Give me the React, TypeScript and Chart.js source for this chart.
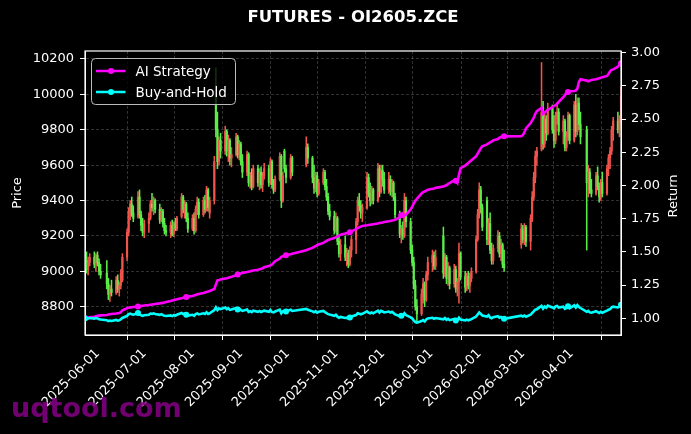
import React, { useEffect, useRef } from 'react';
import { Chart, registerables } from 'chart.js';

Chart.register(...registerables);

const TITLE = 'FUTURES - OI2605.ZCE';
const AI_LABEL = 'AI Strategy';
const BH_LABEL = 'Buy-and-Hold';
const PRICE_LABEL = 'Price';
const RETURN_LABEL = 'Return';
const WATERMARK = 'uqtool.com';

const X_START = '2025-05-20';
const X_END = '2026-04-29';
const MONTH_TICKS = [
  '2025-06-01', '2025-07-01', '2025-08-01', '2025-09-01', '2025-10-01', '2025-11-01',
  '2025-12-01', '2026-01-01', '2026-02-01', '2026-03-01', '2026-04-01',
];
const PRICE_TICKS = [8800, 9000, 9200, 9400, 9600, 9800, 10000, 10200];
const RETURN_TICKS = [1.0, 1.25, 1.5, 1.75, 2.0, 2.25, 2.5, 2.75, 3.0];
const PRICE_MIN = 8640;
const PRICE_MAX = 10245;
const RET_MIN = 0.874;
const RET_MAX = 3.013;

// rows: [day, open, high, low, close, AI strategy return]
const may2025 = [
  [20, 9080, 9120, 9020, 9060, 1.000],
  [21, 9060, 9110, 8990, 9010, 1.003],
  [22, 9010, 9080, 8980, 9050, 1.006],
  [23, 9050, 9100, 9030, 9080, 1.008],
  [26, 9080, 9110, 9020, 9040, 1.012],
  [27, 9040, 9100, 9000, 9090, 1.015],
  [28, 9090, 9110, 9030, 9050, 1.018],
  [29, 9050, 9070, 8980, 9000, 1.020],
  [30, 9000, 9040, 8960, 8980, 1.022],
];
const jun2025 = [
  [3, 8990, 9060, 8900, 8930, 1.025],
  [4, 8930, 8960, 8840, 8870, 1.028],
  [5, 8870, 8920, 8830, 8900, 1.030],
  [6, 8900, 8950, 8860, 8880, 1.032],
  [9, 8880, 8970, 8870, 8950, 1.036],
  [10, 8950, 8980, 8880, 8900, 1.038],
  [11, 8900, 8940, 8860, 8920, 1.040],
  [12, 8920, 9010, 8900, 8990, 1.045],
  [13, 8950, 9100, 8940, 9080, 1.060],
  [16, 9080, 9240, 9060, 9220, 1.075],
  [17, 9220, 9360, 9200, 9340, 1.080],
  [18, 9340, 9400, 9290, 9380, 1.082],
  [19, 9380, 9420, 9310, 9330, 1.083],
  [20, 9330, 9370, 9280, 9300, 1.085],
  [23, 9310, 9450, 9300, 9420, 1.088],
  [24, 9420, 9460, 9300, 9320, 1.090],
  [25, 9320, 9340, 9230, 9260, 1.092],
  [26, 9260, 9300, 9200, 9220, 1.094],
  [27, 9220, 9290, 9190, 9270, 1.096],
  [30, 9270, 9330, 9220, 9300, 1.100],
];
const jul2025 = [
  [1, 9300, 9400, 9290, 9380, 1.102],
  [2, 9380, 9440, 9340, 9360, 1.104],
  [3, 9360, 9420, 9320, 9400, 1.106],
  [4, 9400, 9410, 9330, 9350, 1.108],
  [7, 9350, 9380, 9270, 9290, 1.112],
  [8, 9290, 9360, 9280, 9340, 1.114],
  [9, 9340, 9350, 9250, 9270, 1.116],
  [10, 9270, 9300, 9210, 9230, 1.118],
  [11, 9230, 9260, 9200, 9220, 1.122],
  [14, 9220, 9280, 9190, 9260, 1.130],
  [15, 9260, 9290, 9200, 9210, 1.134],
  [16, 9210, 9280, 9195, 9270, 1.137],
  [17, 9270, 9300, 9230, 9240, 1.140],
  [18, 9240, 9310, 9230, 9300, 1.143],
  [21, 9310, 9440, 9300, 9420, 1.150],
  [22, 9420, 9430, 9330, 9350, 1.155],
  [23, 9350, 9400, 9300, 9380, 1.158],
  [24, 9380, 9390, 9280, 9300, 1.160],
  [25, 9300, 9330, 9220, 9240, 1.163],
  [28, 9240, 9320, 9230, 9300, 1.168],
  [29, 9300, 9330, 9210, 9230, 1.172],
  [30, 9230, 9370, 9220, 9350, 1.176],
  [31, 9350, 9420, 9320, 9390, 1.180],
];
const aug2025 = [
  [1, 9390, 9410, 9300, 9320, 1.183],
  [4, 9320, 9420, 9310, 9400, 1.190],
  [5, 9400, 9430, 9330, 9350, 1.194],
  [6, 9350, 9480, 9340, 9460, 1.198],
  [7, 9460, 9470, 9340, 9360, 1.202],
  [8, 9330, 9420, 9300, 9400, 1.206],
  [11, 9400, 9650, 9380, 9620, 1.220],
  [12, 10050, 10150, 9760, 9800, 1.255],
  [13, 9800, 9900, 9580, 9620, 1.285],
  [14, 9620, 9760, 9600, 9740, 1.288],
  [15, 9740, 9780, 9640, 9680, 1.292],
  [18, 9680, 9820, 9660, 9790, 1.300],
  [19, 9790, 9800, 9650, 9680, 1.302],
  [20, 9680, 9770, 9620, 9740, 1.305],
  [21, 9740, 9750, 9600, 9640, 1.308],
  [22, 9640, 9700, 9590, 9660, 1.312],
  [25, 9660, 9780, 9650, 9760, 1.325],
  [26, 9760, 9770, 9640, 9660, 1.330],
  [27, 9660, 9740, 9630, 9720, 1.334],
  [28, 9720, 9730, 9600, 9620, 1.338],
  [29, 9620, 9660, 9530, 9560, 1.342],
];
const sep2025 = [
  [1, 9560, 9680, 9540, 9660, 1.348],
  [2, 9660, 9670, 9480, 9500, 1.351],
  [3, 9500, 9560, 9470, 9540, 1.354],
  [4, 9540, 9580, 9460, 9480, 1.357],
  [5, 9480, 9600, 9470, 9580, 1.360],
  [8, 9580, 9600, 9480, 9500, 1.366],
  [9, 9500, 9580, 9460, 9560, 1.369],
  [10, 9560, 9590, 9470, 9490, 1.372],
  [11, 9490, 9560, 9450, 9540, 1.376],
  [12, 9540, 9610, 9520, 9580, 1.385],
  [15, 9580, 9600, 9480, 9500, 1.393],
  [16, 9500, 9640, 9490, 9620, 1.398],
  [17, 9620, 9630, 9470, 9490, 1.405],
  [18, 9490, 9520, 9440, 9460, 1.418],
  [19, 9460, 9540, 9450, 9520, 1.430],
  [22, 9520, 9670, 9510, 9650, 1.450],
  [23, 9650, 9660, 9360, 9400, 1.462],
  [24, 9400, 9560, 9390, 9540, 1.468],
  [25, 9680, 9690, 9560, 9580, 1.470],
  [26, 9580, 9600, 9500, 9530, 1.474],
  [29, 9530, 9660, 9520, 9640, 1.482],
  [30, 9640, 9650, 9540, 9560, 1.486],
];
const oct2025 = [
  [9, 9600, 9760, 9590, 9700, 1.512],
  [10, 9700, 9720, 9610, 9640, 1.518],
  [13, 9640, 9650, 9500, 9530, 1.530],
  [14, 9530, 9600, 9440, 9470, 1.538],
  [15, 9470, 9560, 9450, 9540, 1.544],
  [16, 9540, 9560, 9420, 9440, 1.550],
  [17, 9440, 9520, 9430, 9500, 1.556],
  [20, 9500, 9580, 9490, 9560, 1.568],
  [21, 9560, 9570, 9460, 9480, 1.575],
  [22, 9480, 9520, 9400, 9420, 1.582],
  [23, 9420, 9440, 9320, 9340, 1.588],
  [24, 9340, 9380, 9290, 9310, 1.594],
  [27, 9310, 9340, 9210, 9230, 1.604],
  [28, 9230, 9330, 9220, 9300, 1.610],
  [29, 9300, 9310, 9150, 9170, 1.616],
  [30, 9170, 9200, 9080, 9100, 1.622],
  [31, 9100, 9180, 9060, 9150, 1.630],
];
const nov2025 = [
  [3, 9150, 9200, 9060, 9080, 1.638],
  [4, 9080, 9130, 9030, 9100, 1.642],
  [5, 9100, 9120, 9020, 9040, 1.640],
  [6, 9040, 9140, 9030, 9120, 1.648],
  [7, 9120, 9200, 9080, 9180, 1.655],
  [10, 9180, 9300, 9100, 9280, 1.672],
  [11, 9280, 9420, 9260, 9400, 1.680],
  [12, 9400, 9440, 9340, 9370, 1.686],
  [13, 9370, 9400, 9300, 9330, 1.690],
  [14, 9330, 9380, 9280, 9360, 1.695],
  [17, 9360, 9560, 9350, 9530, 1.700],
  [18, 9530, 9550, 9420, 9440, 1.702],
  [19, 9440, 9500, 9370, 9400, 1.704],
  [20, 9400, 9480, 9380, 9460, 1.706],
  [21, 9460, 9470, 9380, 9400, 1.708],
  [24, 9400, 9610, 9390, 9580, 1.714],
  [25, 9580, 9600, 9420, 9450, 1.717],
  [26, 9450, 9600, 9440, 9570, 1.720],
  [27, 9570, 9600, 9480, 9520, 1.722],
  [28, 9520, 9560, 9440, 9460, 1.725],
];
const dec2025 = [
  [1, 9460, 9560, 9440, 9520, 1.730],
  [2, 9520, 9540, 9430, 9450, 1.733],
  [3, 9450, 9520, 9420, 9500, 1.736],
  [4, 9500, 9510, 9400, 9420, 1.738],
  [5, 9420, 9440, 9300, 9320, 1.742],
  [8, 9320, 9340, 9190, 9210, 1.760],
  [9, 9210, 9260, 9160, 9240, 1.775],
  [10, 9240, 9280, 9180, 9200, 1.790],
  [11, 9200, 9440, 9190, 9400, 1.772],
  [12, 9400, 9420, 9250, 9280, 1.780],
  [15, 9280, 9300, 9100, 9120, 1.820],
  [16, 9120, 9150, 9030, 9050, 1.840],
  [17, 9050, 9080, 8900, 8920, 1.865],
  [18, 8920, 8950, 8780, 8800, 1.885],
  [19, 8800, 8840, 8710, 8760, 1.900],
  [22, 8760, 8900, 8750, 8870, 1.940],
  [23, 8870, 8960, 8820, 8930, 1.950],
  [24, 8930, 8940, 8800, 8840, 1.955],
  [25, 8840, 9000, 8830, 8980, 1.962],
  [26, 8980, 9080, 8950, 9050, 1.968],
  [29, 9050, 9120, 9000, 9090, 1.975],
  [30, 9090, 9110, 9010, 9030, 1.978],
  [31, 9030, 9120, 9010, 9080, 1.982],
];
const jan2026 = [
  [5, 9200, 9250, 8960, 8990, 1.992],
  [6, 8990, 9100, 8970, 9080, 1.998],
  [7, 9080, 9090, 8930, 8960, 2.002],
  [8, 8960, 9050, 8920, 9020, 2.012],
  [9, 9020, 9030, 8900, 8930, 2.018],
  [12, 8930, 9040, 8910, 9010, 2.040],
  [13, 9010, 9030, 8880, 8900, 2.035],
  [14, 8900, 8960, 8860, 8940, 2.020],
  [15, 8940, 9160, 8820, 9100, 2.080],
  [16, 9100, 9110, 8950, 8970, 2.130],
  [19, 8970, 9000, 8880, 8910, 2.150],
  [20, 8910, 8990, 8890, 8970, 2.160],
  [21, 8970, 9000, 8900, 8920, 2.170],
  [22, 8920, 8990, 8880, 8960, 2.180],
  [23, 8960, 9020, 8940, 9000, 2.190],
  [26, 9000, 9200, 8990, 9180, 2.220],
  [27, 9180, 9350, 9170, 9320, 2.240],
  [28, 9320, 9500, 9300, 9460, 2.260],
  [29, 9460, 9480, 9330, 9360, 2.280],
  [30, 9360, 9380, 9230, 9250, 2.295],
];
const feb2026 = [
  [2, 9400, 9420, 9150, 9180, 2.310],
  [3, 9180, 9300, 9150, 9270, 2.318],
  [4, 9270, 9330, 9100, 9120, 2.325],
  [5, 9120, 9160, 9040, 9060, 2.330],
  [6, 9060, 9150, 9040, 9130, 2.340],
  [9, 9130, 9230, 9110, 9200, 2.350],
  [10, 9200, 9220, 9080, 9100, 2.360],
  [11, 9100, 9180, 9060, 9150, 2.365],
  [12, 9150, 9160, 9020, 9040, 2.368],
  [13, 9040, 9120, 9000, 9020, 2.370],
  [24, 9150, 9270, 9130, 9240, 2.372],
  [25, 9240, 9260, 9160, 9180, 2.380],
  [26, 9180, 9270, 9150, 9250, 2.400],
  [27, 9250, 9260, 9140, 9170, 2.430],
];
const mar2026 = [
  [2, 9170, 9320, 9120, 9300, 2.470],
  [3, 9300, 9450, 9280, 9420, 2.490],
  [4, 9420, 9560, 9400, 9530, 2.510],
  [5, 9530, 9680, 9500, 9650, 2.540],
  [6, 9650, 9700, 9600, 9680, 2.560],
  [9, 9690, 10180, 9680, 9900, 2.585],
  [10, 9900, 9960, 9690, 9720, 2.540],
  [11, 9720, 9900, 9700, 9860, 2.550],
  [12, 9860, 9880, 9740, 9780, 2.560],
  [13, 9780, 9950, 9770, 9920, 2.570],
  [16, 9920, 9940, 9780, 9800, 2.590],
  [17, 9800, 9880, 9700, 9740, 2.600],
  [18, 9740, 9900, 9720, 9870, 2.605],
  [19, 9870, 9950, 9830, 9900, 2.615],
  [20, 9900, 9920, 9770, 9790, 2.630],
  [23, 9790, 9880, 9720, 9850, 2.665],
  [24, 9850, 9860, 9680, 9700, 2.680],
  [25, 9700, 9790, 9680, 9760, 2.700],
  [26, 9760, 9900, 9740, 9880, 2.705],
  [27, 9880, 9890, 9720, 9740, 2.710],
  [30, 9740, 9960, 9730, 9940, 2.712],
  [31, 9940, 10000, 9760, 9790, 2.715],
];
const apr2026 = [
  [1, 9790, 9980, 9770, 9950, 2.730],
  [2, 9950, 9980, 9800, 9830, 2.780],
  [3, 9830, 9900, 9720, 9760, 2.800],
  [7, 9800, 9820, 9120, 9500, 2.790],
  [8, 9500, 9600, 9420, 9560, 2.785],
  [9, 9560, 9580, 9440, 9460, 2.790],
  [10, 9460, 9520, 9420, 9440, 2.795],
  [13, 9440, 9560, 9430, 9540, 2.800],
  [14, 9540, 9590, 9460, 9480, 2.805],
  [15, 9480, 9500, 9390, 9420, 2.808],
  [16, 9420, 9520, 9400, 9500, 2.812],
  [17, 9500, 9560, 9420, 9440, 2.815],
  [20, 9440, 9600, 9430, 9580, 2.825],
  [21, 9580, 9660, 9540, 9640, 2.840],
  [22, 9640, 9700, 9580, 9680, 2.860],
  [23, 9680, 9820, 9660, 9800, 2.870],
  [24, 9800, 9870, 9740, 9850, 2.875],
  [27, 9850, 9900, 9780, 9800, 2.895],
  [28, 9800, 9880, 9760, 9860, 2.910],
  [29, 9860, 10040, 9840, 9990, 2.920],
];

const MONTH_TABLES: [string, number[][]][] = [
  ['2025-05', may2025], ['2025-06', jun2025], ['2025-07', jul2025], ['2025-08', aug2025],
  ['2025-09', sep2025], ['2025-10', oct2025], ['2025-11', nov2025], ['2025-12', dec2025],
  ['2026-01', jan2026], ['2026-02', feb2026], ['2026-03', mar2026], ['2026-04', apr2026],
];

const FONT = "'DejaVu Sans', sans-serif";
const UP = '#f0544c';
const DOWN = '#5bee4a';
const AI_COLOR = '#ff00ff';
const BH_COLOR = '#00ffff';
const GRID = 'rgba(200,200,200,0.35)';
const MARK_EVERY = 23;

const dayNum = (iso: string) => Date.parse(iso + 'T00:00:00Z') / 86400000;
const isoOf = (d: number) => new Date(Math.round(d) * 86400000).toISOString().slice(0, 10);

const rows = MONTH_TABLES.flatMap(([ym, tbl]) =>
  tbl.map((r) => ({
    x: dayNum(`${ym}-${String(r[0]).padStart(2, '0')}`),
    o: r[1], h: r[2], l: r[3], c: r[4], ai: r[5],
  }))
);
const firstClose = rows[0].c;

const decor = {
  id: 'decor',
  beforeDraw(chart: any) {
    const { ctx, width, height } = chart;
    ctx.save();
    ctx.fillStyle = '#000';
    ctx.fillRect(0, 0, width, height);
    ctx.restore();
  },
  afterDatasetsDraw(chart: any) {
    const { ctx, chartArea: a } = chart;
    ctx.save();
    ctx.strokeStyle = '#fff';
    ctx.lineWidth = 1.2;
    ctx.strokeRect(a.left, a.top, a.right - a.left, a.bottom - a.top);
    ctx.restore();
  },
  afterDraw(chart: any) {
    const { ctx, chartArea: a, width } = chart;
    ctx.save();
    // title
    ctx.fillStyle = '#fff';
    ctx.font = `bold 16.5px ${FONT}`;
    ctx.textAlign = 'center';
    ctx.textBaseline = 'middle';
    ctx.fillText(TITLE, (a.left + a.right) / 2, 18);
    // right axis title
    ctx.save();
    ctx.translate(width - 17.5, (a.top + a.bottom) / 2 + 3);
    ctx.rotate(-Math.PI / 2);
    ctx.font = `13px ${FONT}`;
    ctx.fillText(RETURN_LABEL, 0, 0);
    ctx.restore();
    // legend
    const lx = a.left + 6.5, ly = a.top + 7.5, lw = 144, lh = 46;
    ctx.beginPath();
    ctx.roundRect(lx, ly, lw, lh, 4);
    ctx.fillStyle = 'rgba(0,0,0,0.8)';
    ctx.fill();
    ctx.strokeStyle = '#bbbbbb';
    ctx.lineWidth = 1;
    ctx.stroke();
    const items = [
      { label: AI_LABEL, color: AI_COLOR },
      { label: BH_LABEL, color: BH_COLOR },
    ];
    items.forEach((it, i) => {
      const y = ly + 12.5 + i * 21;
      ctx.strokeStyle = it.color;
      ctx.lineWidth = 2.5;
      ctx.beginPath();
      ctx.moveTo(lx + 4.5, y);
      ctx.lineTo(lx + 34, y);
      ctx.stroke();
      ctx.fillStyle = it.color;
      ctx.beginPath();
      ctx.arc(lx + 19.5, y, 3, 0, Math.PI * 2);
      ctx.fill();
      ctx.fillStyle = '#fff';
      ctx.font = `13.5px ${FONT}`;
      ctx.textAlign = 'left';
      ctx.textBaseline = 'middle';
      ctx.fillText(it.label, lx + 44, y + 1);
    });
    // watermark
    ctx.fillStyle = 'rgba(128,0,128,0.9)';
    ctx.font = `bold 27px ${FONT}`;
    ctx.textAlign = 'left';
    ctx.textBaseline = 'alphabetic';
    ctx.fillText(WATERMARK, 11, 417);
    ctx.restore();
  },
};

export default function App() {
  const ref = useRef<HTMLCanvasElement>(null);
  useEffect(() => {
    document.body.style.margin = '0';
    document.body.style.background = '#000';
    Chart.defaults.font.family = FONT;
    const markR = (ctx: any) => (ctx.dataIndex % MARK_EVERY === 0 ? 3 : 0);
    const tickGrid = { tickColor: '#fff', tickLength: 5, tickWidth: 1, tickBorderDash: [] };
    const chart = new Chart(ref.current as HTMLCanvasElement, {
      type: 'bar',
      data: {
        datasets: [
          {
            type: 'line', label: BH_LABEL, yAxisID: 'y2', order: 0,
            data: rows.map((r) => ({ x: r.x, y: r.c / firstClose })),
            borderColor: BH_COLOR, backgroundColor: BH_COLOR, borderWidth: 2.6,
            pointRadius: markR, pointBorderWidth: 0, tension: 0,
          } as any,
          {
            type: 'line', label: AI_LABEL, yAxisID: 'y2', order: 1,
            data: rows.map((r) => ({ x: r.x, y: r.ai })),
            borderColor: AI_COLOR, backgroundColor: AI_COLOR, borderWidth: 2.6,
            pointRadius: markR, pointBorderWidth: 0, tension: 0,
          } as any,
          {
            type: 'bar', label: 'body', yAxisID: 'y', order: 2, grouped: false,
            data: rows.map((r) => ({ x: r.x, y: [r.o, r.c] })),
            backgroundColor: rows.map((r) => (r.c >= r.o ? UP : DOWN)),
            barThickness: 1.5, minBarLength: 1, borderWidth: 0,
          } as any,
          {
            type: 'bar', label: 'wick', yAxisID: 'y', order: 3, grouped: false,
            data: rows.map((r) => ({ x: r.x, y: [r.l, r.h] })),
            backgroundColor: rows.map((r) => (r.c >= r.o ? UP : DOWN)),
            barThickness: 0.9, borderWidth: 0,
          } as any,
        ],
      },
      options: {
        responsive: false,
        animation: false,
        devicePixelRatio: 1,
        layout: { padding: { top: 51, left: 0, right: 0, bottom: 0 } },
        plugins: { legend: { display: false }, title: { display: false }, tooltip: { enabled: false } },
        scales: {
          x: {
            type: 'linear', offset: false, min: dayNum(X_START), max: dayNum(X_END),
            afterBuildTicks: (s: any) => { s.ticks = MONTH_TICKS.map((d) => ({ value: dayNum(d) })); },
            afterFit: (s: any) => { s.height = 99; },
            ticks: {
              autoSkip: false, maxRotation: 45, minRotation: 45, color: '#fff', padding: 6, labelOffset: -6,
              font: { size: 13, family: FONT },
              callback: (v: any) => isoOf(Number(v)),
            },
            grid: { color: GRID, lineWidth: 0.7, ...tickGrid },
            border: { color: '#fff', width: 1, dash: [3, 2] },
          },
          y: {
            position: 'left', min: PRICE_MIN, max: PRICE_MAX,
            afterBuildTicks: (s: any) => { s.ticks = PRICE_TICKS.map((v) => ({ value: v })); },
            afterFit: (s: any) => { s.width = 85; },
            ticks: {
              color: '#fff', padding: 6,
              font: { size: 13, family: FONT }, callback: (v: any) => String(v),
            },
            grid: { color: GRID, lineWidth: 0.7, ...tickGrid },
            border: { color: '#fff', width: 1, dash: [3, 2] },
            title: { display: true, text: PRICE_LABEL, color: '#fff', font: { size: 13, family: FONT }, padding: { top: 10, bottom: 0 } },
          },
          y2: {
            position: 'right', min: RET_MIN, max: RET_MAX,
            afterBuildTicks: (s: any) => { s.ticks = RETURN_TICKS.map((v) => ({ value: v })); },
            afterFit: (s: any) => { s.width = 70; },
            ticks: {
              color: '#fff', padding: 5,
              font: { size: 13, family: FONT }, callback: (v: any) => Number(v).toFixed(2),
            },
            grid: { drawOnChartArea: false, ...tickGrid },
            border: { color: '#fff', width: 1 },
          },
        },
      } as any,
      plugins: [decor],
    });
    return () => chart.destroy();
  }, []);
  return (
    <div style={{ position: 'fixed', left: 0, top: 0, width: 691, height: 434, background: '#000' }}>
      <canvas ref={ref} width={691} height={434} style={{ width: 691, height: 434, display: 'block' }} />
    </div>
  );
}
